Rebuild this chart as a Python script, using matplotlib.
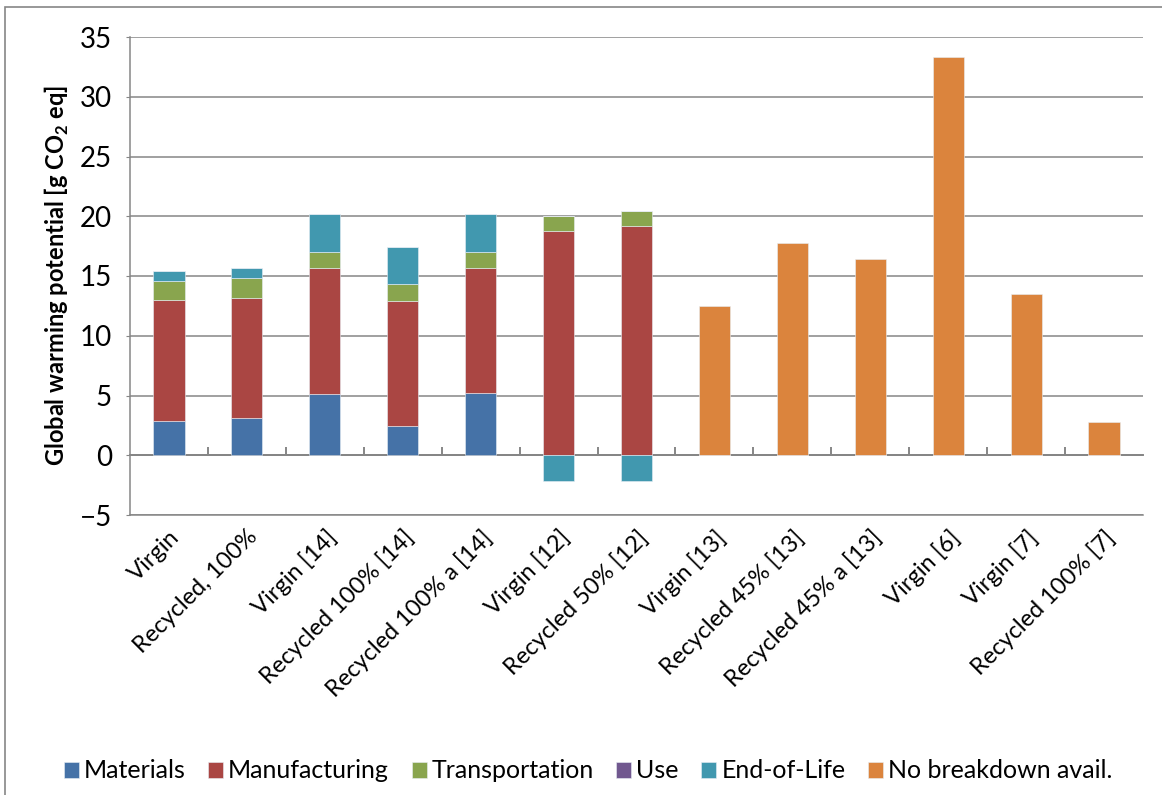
import numpy as np
import matplotlib
matplotlib.use('Agg')
import matplotlib.pyplot as plt
from matplotlib.patches import Rectangle

# data
categories = ['Virgin', 'Recycled, 100%', 'Virgin [14]', 'Recycled 100% [14]',
              'Recycled 100% a [14]', 'Virgin [12]', 'Recycled 50% [12]',
              'Virgin [13]', 'Recycled 45% [13]', 'Recycled 45% a [13]',
              'Virgin [6]', 'Virgin [7]', 'Recycled 100% [7]']
materials      = [2.85, 3.1, 5.15, 2.45, 5.2, 0, 0, 0, 0, 0, 0, 0, 0]
manufacturing  = [10.1, 10.05, 10.5, 10.45, 10.45, 18.75, 19.15, 0, 0, 0, 0, 0, 0]
transportation = [1.6, 1.65, 1.4, 1.4, 1.4, 1.3, 1.3, 0, 0, 0, 0, 0, 0]
use            = [0, 0, 0, 0, 0, 0, 0, 0, 0, 0, 0, 0, 0]
end_of_life    = [0.85, 0.85, 3.1, 3.1, 3.1, -2.15, -2.15, 0, 0, 0, 0, 0, 0]
no_breakdown   = [0, 0, 0, 0, 0, 0, 0, 12.45, 17.75, 16.45, 33.3, 13.5, 2.75]

series = [('Materials', materials, '#4572A7'),
          ('Manufacturing', manufacturing, '#AA4643'),
          ('Transportation', transportation, '#89A54E'),
          ('Use', use, '#71588F'),
          ('End-of-Life', end_of_life, '#4198AF'),
          ('No breakdown avail.', no_breakdown, '#DB843D')]

plt.rcParams['font.family'] = ['Lato', 'DejaVu Sans']
plt.rcParams['mathtext.fontset'] = 'custom'
plt.rcParams['mathtext.rm'] = 'Lato'
plt.rcParams['mathtext.bf'] = 'Lato:bold'

grid_col = '#868686'

fig = plt.figure(figsize=(11.62, 7.95), dpi=100)
ax = fig.add_axes([130/1162, 1 - 515/795, (1143 - 130)/1162, (515 - 37)/795])

x = np.arange(len(categories))
pos_bottom = np.zeros(len(categories))
neg_bottom = np.zeros(len(categories))
for name, vals, col in series:
    v = np.array(vals, dtype=float)
    bottom = np.where(v >= 0, pos_bottom, neg_bottom)
    ax.bar(x, v, width=0.4, bottom=bottom, color=col, label=name,
           edgecolor='#e8eef5', linewidth=0.4, zorder=3)
    pos_bottom += np.where(v > 0, v, 0)
    neg_bottom += np.where(v < 0, v, 0)

ax.set_xlim(-0.5, len(categories) - 0.5)
ax.set_ylim(-5, 35)
ax.set_yticks(np.arange(-5, 36, 5))
ax.yaxis.grid(True, color=grid_col, linewidth=1.1, zorder=0)
ax.tick_params(axis='y', labelsize=20, length=3, color=grid_col, pad=10)

ax.set_xticks(x)
ax.set_xticklabels(categories, rotation=45, ha='right', rotation_mode='anchor',
                   fontsize=17)
ax.tick_params(axis='x', length=0, pad=8)

for s in ['top', 'right']:
    ax.spines[s].set_visible(False)
for s in ['left', 'bottom']:
    ax.spines[s].set_color(grid_col)
    ax.spines[s].set_linewidth(1.1)

# zero line with category separator ticks
zero_ax = ax.secondary_xaxis(5 / 40)
zero_ax.spines['bottom'].set_color(grid_col)
zero_ax.spines['bottom'].set_linewidth(1.4)
zero_ax.set_xticks(np.arange(0.5, len(categories) - 0.5, 1))
zero_ax.set_xticklabels([])
zero_ax.tick_params(direction='in', length=6, width=1.4, color=grid_col)

ax.set_ylabel(r'Global warming potential [g CO$_\mathbf{2}$ eq]',
              fontsize=17, fontweight='bold', labelpad=6)

ax.legend(loc='center', bbox_to_anchor=(588/1162, 1 - 771/795),
          bbox_transform=fig.transFigure, ncol=6, frameon=False,
          fontsize=18, handlelength=0.6, handleheight=0.6,
          handletextpad=0.2, columnspacing=0.9)

# chart area border
fig.patches.append(Rectangle((5/1162, -0.01), 1.0, 1 - 7/795 + 0.01,
                             transform=fig.transFigure, fill=False,
                             edgecolor=grid_col, linewidth=1.2))

fig.savefig('out.png', dpi=100)
